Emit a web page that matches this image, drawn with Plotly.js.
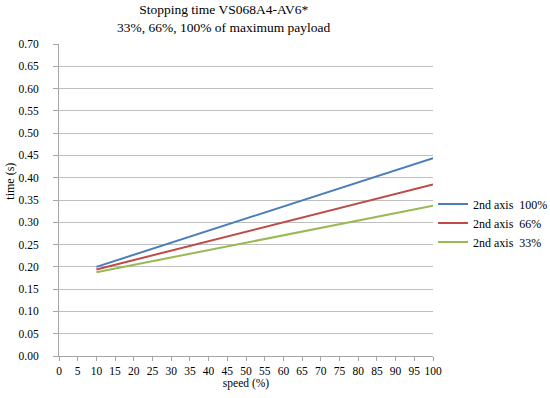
<!DOCTYPE html>
<html><head><meta charset="utf-8">
<script src="https://cdn.plot.ly/plotly-3.0.1.min.js"></script>
<style>html,body{margin:0;padding:0;background:#fff}#c{width:550px;height:398px}</style>
</head><body><div id="c"></div>
<script>
const speed = [10, 100];
const axis100 = [0.200, 0.444];
const axis66 = [0.194, 0.385];
const axis33 = [0.188, 0.337];
const names = ['2nd axis  100%', '2nd axis  66%', '2nd axis  33%'];
const colors = ['#4a7ebb', '#be4b48', '#98b954'];
const series = [axis100, axis66, axis33];
const titleText = 'Stopping time VS068A4-AV6*<br>33%, 66%, 100% of maximum payload';
const font = 'Liberation Serif';
const traces = series.map((s, i) => ({
  x: speed, y: s, type: 'scatter', mode: 'lines', name: names[i],
  line: {color: colors[i], width: 2}
}));
const layout = {
  width: 550, height: 398,
  margin: {l: 59, r: 116, t: 44, b: 42},
  paper_bgcolor: '#fff', plot_bgcolor: '#fff',
  font: {family: font, size: 11, color: '#000'},
  xaxis: {range: [0, 100], dtick: 5, tick0: 0, showgrid: false, zeroline: false,
    showline: true, linecolor: '#a6a6a6', linewidth: 1,
    ticks: 'outside', ticklen: 4, tickcolor: '#a6a6a6',
    tickfont: {family: font, size: 11.5},
    title: {text: 'speed (%)', font: {family: font, size: 11.5}, standoff: 2}},
  yaxis: {range: [0, 0.7], dtick: 0.05, tick0: 0, tickformat: '.2f',
    showgrid: true, gridcolor: '#bfbfbf', zeroline: false,
    showline: true, linecolor: '#a6a6a6', linewidth: 1,
    ticks: 'outside', ticklen: 5, tickcolor: '#a6a6a6', ticklabelstandoff: 12,
    tickfont: {family: font, size: 11.5}},
  legend: {x: 433/550, xref: 'container', y: 1 - 223/398, yref: 'container',
    yanchor: 'middle', xanchor: 'left',
    font: {family: font, size: 12}, tracegroupgap: 0, itemwidth: 30,
    bgcolor: 'rgba(0,0,0,0)', borderwidth: 0},
  annotations: [
    {text: 'time (s)', xref: 'paper', yref: 'paper', x: -0.13, y: 0.56,
      xanchor: 'center', yanchor: 'middle', textangle: -90, showarrow: false,
      font: {family: font, size: 12}},
    {text: titleText, xref: 'paper', yref: 'paper', x: (224 - 59) / 375, y: 1 + 44/312,
      xanchor: 'center', yanchor: 'top', showarrow: false, align: 'center',
      font: {family: font, size: 13.5}}
  ]
};
Plotly.newPlot('c', traces, layout, {displayModeBar: false, staticPlot: true});
</script></body></html>
